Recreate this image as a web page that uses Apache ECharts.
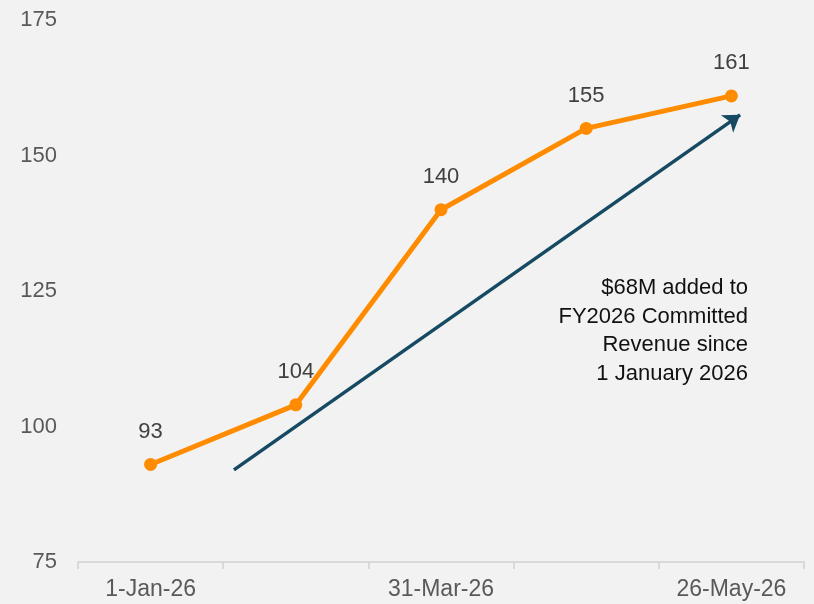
<!DOCTYPE html>
<html>
<head>
<meta charset="utf-8">
<script src="https://cdn.jsdelivr.net/npm/echarts@6/dist/echarts.min.js"></script>
<style>
html,body{margin:0;padding:0;background:#f2f2f2;}
#chart{width:814px;height:604px;}
</style>
</head>
<body>
<div id="chart"></div>
<script>
// Categories (only every other date is labelled in the reference)
const categories = ['1-Jan-26', '', '31-Mar-26', '', '26-May-26'];
// Committed revenue values ($M)
const revenue = [93, 104, 140, 155, 161];
// Y-axis ticks
const yTicks = [75, 100, 125, 150, 175];
// Trend arrow endpoints in data space: [category position, value]
const arrowStart = [0.574, 92];
const arrowEnd = [4.06, 157.5];
// Annotation text
const noteLines = ['$68M added to', 'FY2026 Committed', 'Revenue since', '1 January 2026'];

const FONT = '"Liberation Sans", Arial, sans-serif';
const chart = echarts.init(document.getElementById('chart'));
chart.setOption({
  backgroundColor: '#f2f2f2',
  animation: false,
  textStyle: { fontFamily: FONT },
  grid: { left: 78, right: 10, top: 20, bottom: 42 },
  xAxis: [{
    type: 'category',
    data: categories,
    boundaryGap: true,
    axisLine: { show: true, lineStyle: { color: '#d9d9d9', width: 2 } },
    axisTick: { show: true, interval: 0, length: 7, lineStyle: { color: '#d9d9d9', width: 2 } },
    axisLabel: { interval: 0, color: '#595959', fontSize: 23, margin: 16, fontFamily: FONT },
    splitLine: { show: false }
  }, {
    type: 'value',
    min: -0.5,
    max: 4.5,
    show: false
  }],
  yAxis: {
    type: 'value',
    min: yTicks[0],
    max: yTicks[yTicks.length - 1],
    interval: yTicks[1] - yTicks[0],
    axisLine: { show: false },
    axisTick: { show: false },
    splitLine: { show: false },
    axisLabel: { color: '#595959', fontSize: 22, margin: 21, fontFamily: FONT }
  },
  series: [{
    type: 'line',
    data: revenue,
    xAxisIndex: 0,
    color: '#ff8c00',
    lineStyle: { color: '#ff8c00', width: 5 },
    itemStyle: { color: '#ff8c00' },
    symbol: 'circle',
    symbolSize: 13,
    label: {
      show: true,
      position: 'top',
      distance: 15,
      color: '#404040',
      fontSize: 22,
      fontFamily: FONT
    },
    z: 3
  }, {
    type: 'line',
    xAxisIndex: 1,
    data: [],
    silent: true,
    markLine: {
      silent: true,
      symbol: ['none', 'arrow'],
      symbolSize: 16,
      label: { show: false },
      lineStyle: { color: '#154a62', width: 3.5, type: 'solid' },
      data: [[{ coord: arrowStart }, { coord: arrowEnd }]]
    },
    z: 2
  }],
  graphic: noteLines.map(function (line, i) {
    return {
      type: 'text',
      x: 748,
      y: 288 + i * 28.5,
      style: {
        text: line,
        fill: '#111111',
        font: '22px ' + FONT,
        align: 'right',
        verticalAlign: 'middle'
      }
    };
  })
});
</script>
</body>
</html>
